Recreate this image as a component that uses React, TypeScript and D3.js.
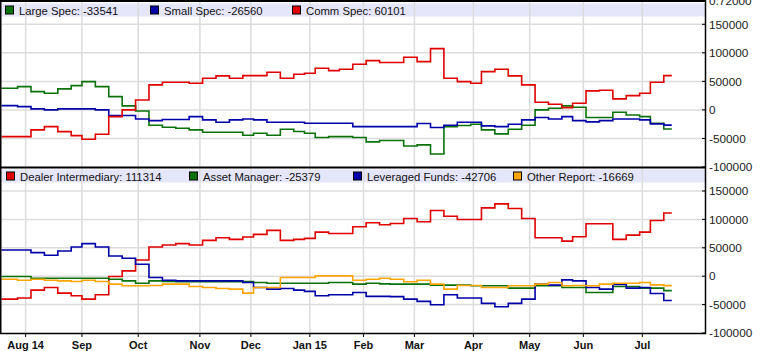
import * as d3 from "d3";
import { useRef, useEffect } from "react";

// weekly report dates (Tuesdays), Jul 22 2014 .. Jul 14 2015
const weekStart = "2014-07-22";
const weekEnd = "2015-07-15";
const lastDay = "2015-07-17"; // line runs on to the Friday after the last report

// market holidays, used for the trading-day x axis
const holidays = ["2014-09-01", "2014-11-27", "2014-12-25", "2015-01-01", "2015-01-19",
  "2015-02-16", "2015-04-03", "2015-05-25", "2015-07-03"];

const monthStarts = ["2014-08-01", "2014-09-01", "2014-10-01", "2014-11-01", "2014-12-01", "2015-01-01",
  "2015-02-01", "2015-03-01", "2015-04-01", "2015-05-01", "2015-06-01", "2015-07-01"];
const monthLabels = ["Aug 14", "Sep", "Oct", "Nov", "Dec", "Jan 15", "Feb", "Mar", "Apr", "May", "Jun", "Jul"];

const yTicks = [150000, 100000, 50000, 0, -50000, -100000];

// top panel
const largeSpec = [38000, 40800, 32100, 29200, 36800, 42600, 49600, 40800, 23300, 7000, -1800,
  -26800, -30300, -32100, -35000, -39100, -39100, -39100, -44400, -40900, -44400, -33900, -37900, -40900,
  -48400, -46700, -46700, -48400, -56000, -53700, -53700, -63100, -61300, -77100, -29200, -27400, -25100,
  -35000, -42000, -33900, -26800, 0, 2900, 7000, 4700, -13400, -13400, -4100, -8800, -11700, -23300, -33541];
const smallSpec = [7600, 5800, 1800, 0, 1800, 1800, 1800, 0, -9900, -9900, -15800,
  -18700, -16900, -16900, -11700, -17500, -21600, -17500, -15800, -17500, -21600, -21600, -21600, -23300,
  -23300, -23300, -23300, -29200, -29200, -29200, -29200, -29200, -23900, -30900, -26800, -21600, -21600,
  -28000, -29200, -25100, -17500, -13400, -15800, -11700, -18700, -21000, -18700, -15800, -15800, -17500, -24500, -26560];
const commSpec = [-46800, -46800, -35000, -29200, -38000, -45000, -51400, -42600, -11700, 0, 17500,
  43800, 48500, 48500, 46800, 55500, 59600, 55500, 60100, 60100, 66000, 55500, 62500, 64300,
  73000, 68900, 71300, 80000, 86400, 83000, 83000, 92300, 84600, 107400, 55500, 49600, 46700,
  67100, 71300, 59600, 43800, 13400, 9900, 4100, 11700, 33300, 34500, 19300, 25100, 29200, 48500, 60101];

// bottom panel
const dealer = [-40300, -38500, -24500, -19900, -29800, -34500, -40300, -32700, -600, 9300, 28600,
  51400, 54900, 57300, 54900, 63100, 67800, 64800, 68900, 73600, 80600, 63100, 64800, 66600,
  77600, 75300, 75300, 87000, 94000, 90500, 92800, 101600, 95800, 115600, 105600, 99900, 99900,
  120300, 127300, 119100, 101600, 67800, 67800, 61800, 69500, 92300, 92300, 64800, 72400, 77600, 98100, 111314];
const assetManager = [-600, -600, -3500, -3500, -3500, -3500, -3500, -3500, -5300, -8200, -12300,
  -8200, -9300, -9600, -9600, -9600, -9600, -9600, -9600, -11100, -12300, -12300, -12300, -12300,
  -12300, -11100, -11100, -14000, -12300, -13500, -14000, -14000, -14000, -15800, -15800, -15800, -16900,
  -16900, -16900, -21000, -21000, -16900, -16900, -19900, -19900, -28600, -28600, -18100, -18100, -21000, -21000, -25379];
const leveraged = [46100, 46100, 41500, 36800, 44400, 51400, 57300, 51400, 35600, 31500, 21000,
  -2300, -7000, -8200, -8200, -8200, -8200, -8200, -11100, -19900, -22800, -21600, -24500, -26800,
  -34500, -32700, -32700, -28600, -35600, -35600, -36000, -40300, -44400, -50200, -32700, -38500, -38500,
  -47900, -53700, -47900, -40300, -14000, -15800, -6400, -8200, -19900, -22800, -14600, -21000, -19900, -30400, -42706];
const otherReport = [-5300, -7000, -5300, -7000, -8200, -9300, -7000, -9300, -14000, -16900, -16900,
  -16300, -14000, -14000, -18100, -19900, -21600, -22800, -29800, -19900, -19900, -2300, -2300, -2300,
  600, 600, 600, -7000, -5300, -3500, -5300, -9900, -7000, -14000, -22800, -16300, -16300,
  -19900, -19900, -16900, -16900, -14000, -11100, -16900, -16300, -16900, -14000, -12300, -12300, -11100, -15200, -16669];

const topSeries = [
  { name: "Large Spec", values: largeSpec, color: "#0b720b" },
  { name: "Small Spec", values: smallSpec, color: "#0000a8" },
  { name: "Comm Spec", values: commSpec, color: "#e00000" },
];
const bottomSeries = [
  { name: "Dealer Intermediary", values: dealer, color: "#e00000" },
  { name: "Asset Manager", values: assetManager, color: "#0b720b" },
  { name: "Leveraged Funds", values: leveraged, color: "#0000a8" },
  { name: "Other Report", values: otherReport, color: "#ffa500" },
];
const topLegendX = [5, 150, 292];
const bottomLegendX = [6, 189, 353, 513];

const parse = d3.utcParse("%Y-%m-%d");
const fmt = d3.utcFormat("%Y-%m-%d");
const holidaySet = new Set(holidays);
const base = parse("2014-08-01");

// number of trading days between Aug 1 2014 and the date
function tradingIndex(date) {
  const after = date >= base;
  const days = d3.utcDay.range(after ? base : date, after ? date : base)
    .filter(d => d.getUTCDay() !== 0 && d.getUTCDay() !== 6 && !holidaySet.has(fmt(d)));
  return after ? days.length : -days.length;
}

function Chart() {
  const ref = useRef(null);

  useEffect(() => {
    const width = 762;
    const height = 351;
    const left = 1.5;
    const right = 705;
    const font = "'Liberation Sans', Arial, sans-serif";

    const svg = d3.select(ref.current);
    svg.selectAll("*").remove();

    const weeks = d3.utcTuesday.range(parse(weekStart), parse(weekEnd));
    const weekIdx = weeks.map(tradingIndex);
    const endIdx = tradingIndex(parse(lastDay));

    const x = d3.scaleLinear().domain([-9, 253]).range([left, 704]);

    const panels = [
      { y: d3.scaleLinear().domain([-100000, 150000]).range([167, 24.3]), top: 2, bottom: 167.5, band: 3.5, series: topSeries, legendX: topLegendX },
      { y: d3.scaleLinear().domain([-100000, 150000]).range([333, 191]), top: 168.5, bottom: 333, band: 169.5, series: bottomSeries, legendX: bottomLegendX },
    ];

    svg.append("rect").attr("width", width).attr("height", height).attr("fill", "#fff");

    svg.append("defs").append("clipPath").attr("id", "plot-clip")
      .append("rect").attr("x", left).attr("y", 0).attr("width", right - left).attr("height", 333);

    const monthIdx = monthStarts.map(m => tradingIndex(parse(m)));

    panels.forEach((p, pi) => {
      // legend band
      svg.append("rect")
        .attr("x", left).attr("y", p.band)
        .attr("width", right - left).attr("height", 13)
        .attr("fill", "#e6e6fb");

      // horizontal grid
      svg.append("g")
        .selectAll("line")
        .data(yTicks.filter(t => t > -100000))
        .join("line")
        .attr("x1", left).attr("x2", right)
        .attr("y1", d => p.y(d)).attr("y2", d => p.y(d))
        .attr("stroke", "#dcdcdc").attr("stroke-width", 1.5);

      // vertical grid
      svg.append("g")
        .selectAll("line")
        .data(monthIdx)
        .join("line")
        .attr("x1", d => x(d)).attr("x2", d => x(d))
        .attr("y1", p.top).attr("y2", p.bottom)
        .attr("stroke", "#dcdcdc").attr("stroke-width", 1.5);

      // step lines
      const line = d3.line()
        .x(d => x(d[0]))
        .y(d => p.y(d[1]))
        .curve(d3.curveStepAfter);

      p.series.forEach(s => {
        const pts = [[-10, s.values[0]], ...weekIdx.map((w, i) => [w, s.values[i]]), [endIdx, s.values[s.values.length - 1]]];
        svg.append("path")
          .datum(pts)
          .attr("clip-path", "url(#plot-clip)")
          .attr("fill", "none")
          .attr("stroke", s.color)
          .attr("stroke-width", 1.6)
          .attr("d", line);
      });

      // legend
      const lg = svg.append("g").selectAll("g").data(p.series).join("g")
        .attr("transform", (d, i) => `translate(${p.legendX[i]},${p.band + 2})`);
      lg.append("rect")
        .attr("x", 0.5).attr("y", 0.5).attr("width", 8).attr("height", 8)
        .attr("fill", d => d.color).attr("stroke", "#000").attr("stroke-width", 1);
      lg.append("text")
        .attr("x", 14).attr("y", 9)
        .attr("font-family", font).attr("font-size", 11.3).attr("fill", "#111")
        .text(d => `${d.name}: ${d.values[d.values.length - 1]}`);

      // right axis ticks and labels
      const ax = svg.append("g");
      ax.selectAll("line").data(yTicks).join("line")
        .attr("x1", right - 3).attr("x2", right)
        .attr("y1", d => p.y(d)).attr("y2", d => p.y(d))
        .attr("stroke", "#000");
      ax.selectAll("text").data(yTicks).join("text")
        .attr("x", right + 4).attr("y", d => p.y(d))
        .attr("dy", "0.36em")
        .attr("font-family", font).attr("font-size", 11.8).attr("fill", "#222")
        .text(d => d);

      if (pi === 0) {
        svg.append("text")
          .attr("x", right + 4).attr("y", 1).attr("dy", "0.36em")
          .attr("font-family", font).attr("font-size", 11.8).attr("fill", "#222")
          .text("0.72000");
      }
    });

    // frame
    const frame = svg.append("g").attr("stroke", "#000");
    frame.append("line").attr("x1", 0.75).attr("x2", 0.75).attr("y1", 0).attr("y2", 334).attr("stroke-width", 1.5);
    frame.append("line").attr("x1", 0).attr("x2", right).attr("y1", 1).attr("y2", 1).attr("stroke-width", 2);
    frame.append("line").attr("x1", 0).attr("x2", right + 1).attr("y1", 167.5).attr("y2", 167.5).attr("stroke-width", 2);
    frame.append("line").attr("x1", 0).attr("x2", right + 1).attr("y1", 333.5).attr("y2", 333.5).attr("stroke-width", 1.5);
    frame.append("line").attr("x1", right + 0.5).attr("x2", right + 0.5).attr("y1", 0).attr("y2", 334).attr("stroke-width", 1.5);

    // month ticks and labels
    svg.append("g").selectAll("line").data(monthIdx).join("line")
      .attr("x1", d => x(d)).attr("x2", d => x(d))
      .attr("y1", 333).attr("y2", 337)
      .attr("stroke", "#000");
    svg.append("g").selectAll("text").data(monthIdx).join("text")
      .attr("x", d => x(d)).attr("y", 349)
      .attr("text-anchor", "middle")
      .attr("font-family", font).attr("font-size", 11).attr("font-weight", "bold").attr("fill", "#111")
      .text((d, i) => monthLabels[i]);
  }, []);

  return <svg ref={ref} width={762} height={351} style={{ position: "absolute", left: 0, top: 0 }} />;
}

export default function App() {
  return <Chart />;
}
